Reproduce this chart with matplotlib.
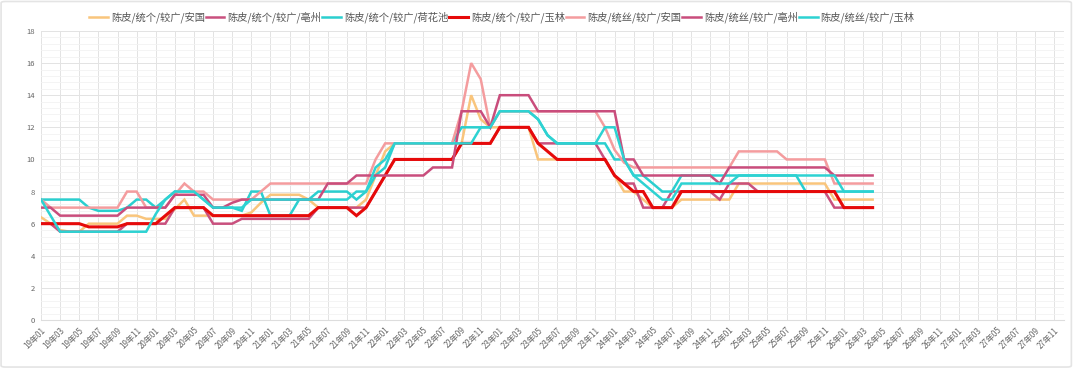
import matplotlib

matplotlib.use("Agg")
import matplotlib.pyplot as plt
from matplotlib.patches import FancyBboxPatch
from matplotlib.ticker import MultipleLocator

plt.rcParams["font.family"] = ["Noto Sans CJK SC", "DejaVu Sans"]

# month axis: 19年01 .. 27年12
years = list(range(19, 28))
months = [f"{y}年{m:02d}" for y in years for m in range(1, 13)]

# one row per year (19 .. 26), data runs to 26年04
yulin_tongge = (
    [6, 6, 6, 6, 6, 5.8, 5.8, 5.8, 5.8, 6, 6, 6]
    + [6, 6.5, 7, 7, 7, 7, 6.5, 6.5, 6.5, 6.5, 6.5, 6.5]
    + [6.5, 6.5, 6.5, 6.5, 6.5, 7, 7, 7, 7, 6.5, 7, 8]
    + [9, 10, 10, 10, 10, 10, 10, 10, 11, 11, 11, 11]
    + [12, 12, 12, 12, 11, 10.5, 10, 10, 10, 10, 10, 10]
    + [9, 8.5, 8, 8, 7, 7, 7, 8, 8, 8, 8, 8]
    + [8, 8, 8, 8, 8, 8, 8, 8, 8, 8, 8, 8]
    + [7, 7, 7, 7]
)
anguo_tongge = (
    [6.4, 6, 5.6, 5.5, 5.5, 6, 6, 6, 6, 6.5, 6.5, 6.3]
    + [6.3, 6.3, 6.9, 7.5, 6.5, 6.5, 6.5, 6.5, 6.5, 6.5, 6.7, 7.3]
    + [7.8, 7.8, 7.8, 7.8, 7.5, 7, 7, 7, 7, 7, 7.5, 9]
    + [10.5, 11, 11, 11, 11, 11, 11, 11, 11, 14, 12.5, 12]
    + [12, 12, 12, 12, 10, 10, 10, 10, 10, 10, 10, 10]
    + [9, 8, 8, 7.5, 7, 7, 7, 7.5, 7.5, 7.5, 7.5, 7.5]
    + [7.5, 8.5, 8.5, 8.5, 8.5, 8.5, 8.5, 8.5, 8.5, 8.5, 8.5, 7.5]
    + [7.5, 7.5, 7.5, 7.5]
)
bozhou_tongge = (
    [6, 6, 5.5, 5.5, 5.5, 5.5, 5.5, 5.5, 5.5, 6, 6, 6]
    + [6, 6, 7, 7, 7, 7, 6, 6, 6, 6.3, 6.3, 6.3]
    + [6.3, 6.3, 6.3, 6.3, 6.3, 7, 7, 7, 7, 7, 7, 8]
    + [9, 10, 10, 10, 10, 10, 10, 10, 11, 11, 11, 11]
    + [12, 12, 12, 12, 11, 11, 11, 11, 11, 11, 11, 10]
    + [9, 8.5, 8.5, 7, 7, 7, 8, 8, 8, 8, 8, 7.5]
    + [8.5, 8.5, 8.5, 8, 8, 8, 8, 8, 8, 8, 8, 7]
    + [7, 7, 7, 7]
)
hehuachi_tongge = (
    [7.5, 7.5, 7.5, 7.5, 7.5, 7, 6.8, 6.8, 6.8, 7, 7.5, 7.5]
    + [7, 7.5, 8, 8, 8, 7.5, 7, 7, 7, 6.8, 8, 8]
    + [6.5, 6.5, 6.5, 7.5, 7.5, 8, 8, 8, 8, 7.5, 8, 9]
    + [9.5, 11, 11, 11, 11, 11, 11, 11, 12, 12, 12, 12]
    + [13, 13, 13, 13, 12.5, 11.5, 11, 11, 11, 11, 11, 11]
    + [10, 10, 9, 9, 8.5, 8, 8, 9, 9, 9, 9, 9]
    + [9, 9, 9, 9, 9, 9, 9, 9, 8, 8, 8, 8]
    + [8, 8, 8, 8]
)
anguo_tongsi = (
    [7.5, 7, 7, 7, 7, 7, 7, 7, 7, 8, 8, 7]
    + [7, 7, 7.8, 8.5, 8, 8, 7.5, 7.5, 7.5, 7.5, 7.5, 8]
    + [8.5, 8.5, 8.5, 8.5, 8.5, 8.5, 8.5, 8.5, 8.5, 8.5, 8.5, 10]
    + [11, 11, 11, 11, 11, 11, 11, 11, 13, 16, 15, 12]
    + [13, 13, 13, 13, 13, 13, 13, 13, 13, 13, 13, 12]
    + [10.6, 9.8, 9.5, 9.5, 9.5, 9.5, 9.5, 9.5, 9.5, 9.5, 9.5, 9.5]
    + [9.5, 10.5, 10.5, 10.5, 10.5, 10.5, 10, 10, 10, 10, 10, 8.5]
    + [8.5, 8.5, 8.5, 8.5]
)
bozhou_tongsi = (
    [7, 7, 6.5, 6.5, 6.5, 6.5, 6.5, 6.5, 6.5, 7, 7, 7]
    + [7, 7, 7.8, 7.8, 7.8, 7.8, 7, 7, 7.3, 7.5, 7.5, 7.5]
    + [7.5, 7.5, 7.5, 7.5, 7.5, 7.5, 8.5, 8.5, 8.5, 9, 9, 9]
    + [9, 9, 9, 9, 9, 9.5, 9.5, 9.5, 13, 13, 13, 12]
    + [14, 14, 14, 14, 13, 13, 13, 13, 13, 13, 13, 13]
    + [13, 10, 10, 9, 9, 9, 9, 9, 9, 9, 9, 8.5]
    + [9.5, 9.5, 9.5, 9.5, 9.5, 9.5, 9.5, 9.5, 9.5, 9.5, 9.5, 9]
    + [9, 9, 9, 9]
)
yulin_tongsi = (
    [7.5, 6.5, 5.5, 5.5, 5.5, 5.5, 5.5, 5.5, 5.5, 5.5, 5.5, 5.5]
    + [6.6, 7.5, 8, 8, 8, 7.5, 7, 7, 7, 7, 7.5, 7.5]
    + [7.5, 7.5, 7.5, 7.5, 7.5, 7.5, 7.5, 7.5, 7.5, 8, 8, 9.5]
    + [10, 11, 11, 11, 11, 11, 11, 11, 11, 11, 12, 12]
    + [13, 13, 13, 13, 12.5, 11.5, 11, 11, 11, 11, 11, 12]
    + [12, 10, 9, 8.5, 8, 7.5, 7.5, 8.5, 8.5, 8.5, 8.5, 8.5]
    + [8.5, 9, 9, 9, 9, 9, 9, 9, 9, 9, 9, 9]
    + [8, 8, 8, 8]
)

series = [
    ("陈皮/统个/较广/安国", anguo_tongge, "#F9C57C", 1.8),
    ("陈皮/统个/较广/亳州", bozhou_tongge, "#C9507E", 1.8),
    ("陈皮/统个/较广/荷花池", hehuachi_tongge, "#2ACFCF", 1.8),
    ("陈皮/统个/较广/玉林", yulin_tongge, "#E60A0A", 2.2),
    ("陈皮/统丝/较广/安国", anguo_tongsi, "#F49C9E", 1.8),
    ("陈皮/统丝/较广/亳州", bozhou_tongsi, "#C94D7C", 1.8),
    ("陈皮/统丝/较广/玉林", yulin_tongsi, "#2DD2D2", 1.8),
]

fig = plt.figure(figsize=(10.8, 3.73), dpi=100)
ax = fig.add_axes([0.038, 0.142, 0.947, 0.775])

for name, vals, color, lw in series:
    ax.plot(range(len(vals)), vals, color=color, lw=lw, label=name,
            solid_joinstyle="miter")

ax.set_xlim(0, len(months) - 1)
ax.set_ylim(0, 18)
ax.set_xticks(range(0, len(months), 2))
ax.set_xticklabels(months[::2], rotation=45, ha="right", va="top",
                   rotation_mode="anchor", fontsize=5.8, color="#666666")
ax.yaxis.set_major_locator(MultipleLocator(2))
ax.yaxis.set_minor_locator(MultipleLocator(0.4))
ax.tick_params(axis="y", labelsize=5.5, labelcolor="#666666", length=0, pad=4.5)
ax.tick_params(axis="x", length=0, pad=4)
ax.tick_params(which="minor", length=0)
ax.grid(which="major", color="#e3e3e3", lw=0.7)
ax.grid(which="minor", axis="y", color="#f2f2f2", lw=0.6)
ax.set_axisbelow(True)
for side in ("top", "right", "left"):
    ax.spines[side].set_visible(False)
ax.spines["bottom"].set_color("#dddddd")

fig.legend(loc="center left", bbox_to_anchor=(0.074, 0.954), ncol=7,
           frameon=False, fontsize=7.4, handlelength=1.8, handletextpad=0.3,
           columnspacing=0.1, labelcolor="#555555")

fig.add_artist(FancyBboxPatch((0.001, 0.016), 0.991, 0.98,
                              boxstyle="round,pad=0,rounding_size=0.004",
                              transform=fig.transFigure, fill=False,
                              edgecolor="#e4e4e4", lw=1.2))

fig.savefig("out.png", dpi=100)
